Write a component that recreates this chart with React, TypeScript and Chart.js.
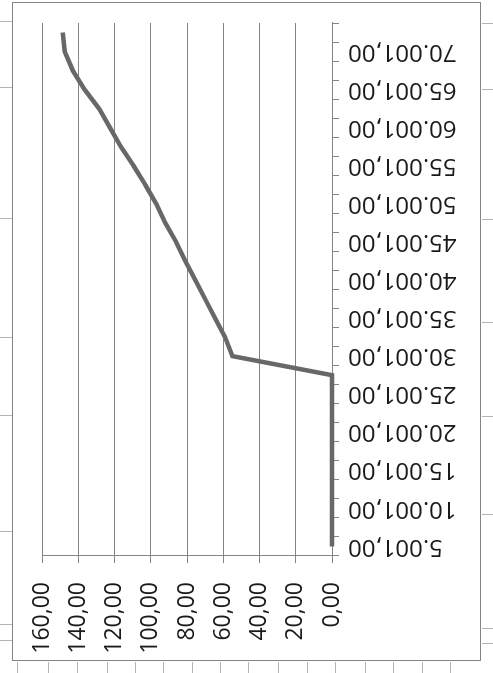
import React, { useEffect, useRef } from "react";
import { Chart, registerables } from "chart.js";

Chart.register(...registerables);

// Category axis (thresholds), value axis ticks and the series
const categories = [
  "5.001,00", "7.501,00", "10.001,00", "12.501,00", "15.001,00", "17.501,00",
  "20.001,00", "22.501,00", "25.001,00", "27.501,00", "30.001,00", "32.501,00",
  "35.001,00", "37.501,00", "40.001,00", "42.501,00", "45.001,00", "47.501,00",
  "50.001,00", "52.501,00", "55.001,00", "57.501,00", "60.001,00", "62.501,00",
  "65.001,00", "67.501,00", "70.001,00", "72.501,00",
];

const values = [
  0, 0, 0, 0, 0, 0, 0, 0, 0, 0,
  55, 59, 64.5, 70, 75.5, 81, 86, 92, 97, 103,
  109.5, 116.5, 122.5, 128.5, 136.5, 143, 147.5, 148.5,
];

const valueMin = 0;
const valueMax = 160;
const valueStep = 20;

// Decorative spreadsheet cell borders around the scanned chart (page coordinates)
const leftRowLines = [21, 87, 218, 337, 415, 531, 624, 640];
const rightRowLines = [23, 89, 219, 322, 416, 514, 628, 643];
const bottomColLines = [17, 48, 77, 107, 135, 163, 192, 220, 248, 278, 307, 335, 365, 393, 422, 450];

const fmtNum = (v: number) => Number(v).toFixed(2).replace(".", ",");

export default function App() {
  const canvasRef = useRef<HTMLCanvasElement | null>(null);

  useEffect(() => {
    if (!canvasRef.current) return;
    const gridColor = "#858585";
    const textColor = "#1a1a1a";
    const chart = new Chart(canvasRef.current, {
      type: "line",
      data: {
        labels: categories,
        datasets: [
          {
            data: values,
            borderColor: "#686868",
            borderWidth: 4.5,
            pointRadius: 0,
            tension: 0,
            fill: false,
            clip: false,
          } as any,
        ],
      },
      options: {
        animation: false,
        responsive: false,
        maintainAspectRatio: false,
        layout: { padding: { top: 29, right: 20, left: 0, bottom: 0 } },
        plugins: { legend: { display: false }, tooltip: { enabled: false } },
        scales: {
          x: {
            type: "category",
            offset: true,
            grid: {
              offset: true,
              drawOnChartArea: false,
              drawTicks: true,
              tickLength: 7,
              color: gridColor,
            },
            border: { color: gridColor, width: 1 },
            ticks: {
              autoSkip: false,
              minRotation: 90,
              maxRotation: 90,
              padding: 9,
              color: textColor,
              font: { family: "'Open Sans'", size: 24 },
              callback: (_v: any, i: number) => (i % 2 === 0 ? categories[i] : ""),
            },
            afterFit: (s: any) => {
              s.height = 148;
              s.paddingLeft = 0;
              s.paddingRight = 0;
            },
          },
          y: {
            min: valueMin,
            max: valueMax,
            grid: { color: gridColor, tickLength: 7, drawTicks: true },
            border: { color: gridColor, width: 1 },
            ticks: {
              stepSize: valueStep,
              padding: 19,
              color: textColor,
              font: { family: "'Open Sans'", size: 23 },
              callback: (v: any) => fmtNum(Number(v)),
            },
            afterFit: (s: any) => {
              s.width = 104;
              s.paddingTop = 0;
              s.paddingBottom = 0;
            },
          },
        },
      } as any,
    });
    return () => chart.destroy();
  }, []);

  const lineColor = "#b4b4b4";

  return (
    <div style={{ position: "fixed", left: 0, top: 0, width: 493, height: 673, background: "#fff", overflow: "hidden" }}>
      {leftRowLines.map((y, i) => (
        <div key={"l" + i} style={{ position: "absolute", left: 0, top: y, width: 12, height: 1, background: lineColor }} />
      ))}
      {rightRowLines.map((y, i) => (
        <div key={"r" + i} style={{ position: "absolute", left: 482, top: y, width: 11, height: 1, background: lineColor }} />
      ))}
      {bottomColLines.map((x, i) => (
        <div key={"b" + i} style={{ position: "absolute", left: x, top: 662, width: 1, height: 11, background: lineColor }} />
      ))}
      <div
        style={{
          position: "absolute",
          left: -83,
          top: 97,
          width: 659,
          height: 469,
          transform: "rotate(-90deg)",
          transformOrigin: "center center",
          border: "1px solid #858585",
          boxSizing: "border-box",
          background: "#fff",
        }}
      >
        <canvas ref={canvasRef} width={657} height={467} style={{ display: "block", width: 657, height: 467 }} />
      </div>
    </div>
  );
}
